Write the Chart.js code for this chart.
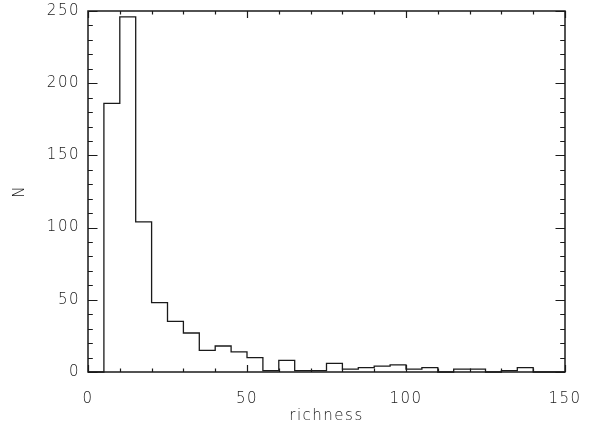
<!DOCTYPE html>
<html>
<head>
<meta charset="utf-8">
<script src="https://cdn.jsdelivr.net/npm/chart.js@4.4.1/dist/chart.umd.min.js"></script>
<style>
  html, body { margin: 0; padding: 0; background: #fff; }
  #wrap { width: 593px; height: 429px; }
</style>
</head>
<body>
<div id="wrap"><canvas id="histChart"></canvas></div>
<script>
// histogram of richness, bins of width 5
const binStart = [0, 5, 10, 15, 20, 25, 30, 35, 40, 45, 50, 55, 60, 65, 70,
                  75, 80, 85, 90, 95, 100, 105, 110, 115, 120, 125, 130, 135, 140, 145];
const binEnd = 150;
const counts = [0, 186, 246, 104, 48, 35, 27, 15, 18, 14, 10, 1, 8, 1, 1,
                6, 2, 3, 4, 5, 2, 3, 0, 2, 2, 0, 1, 3, 0, 0];
const xTicks = [0, 50, 100, 150];
const yTicks = [0, 50, 100, 150, 200, 250];

const ink = '#1a1a1a';
const font = { family: 'DejaVu Sans', size: 15, weight: 300 };

const points = binStart.map((x, i) => ({ x: x, y: counts[i] }));
points.push({ x: binEnd, y: counts[counts.length - 1] });

// IDL-like box with inward ticks on all four sides
const frameTicks = {
  id: 'frameTicks',
  beforeDraw(chart) {
    chart.ctx.letterSpacing = '1.5px';
  },
  afterDraw(chart) {
    const ctx = chart.ctx;
    const a = chart.chartArea;
    const sx = chart.scales.x;
    const sy = chart.scales.y;
    ctx.save();
    ctx.strokeStyle = ink;
    ctx.lineWidth = 1.2;
    ctx.beginPath();
    for (let v = 0; v <= 150; v += 10) {
      const px = Math.round(sx.getPixelForValue(v)) + 0.5;
      const len = v % 50 === 0 ? 7 : 3.5;
      ctx.moveTo(px, a.bottom);
      ctx.lineTo(px, a.bottom - len);
      ctx.moveTo(px, a.top);
      ctx.lineTo(px, a.top + len);
    }
    for (let v = 0; v <= 250; v += 10) {
      const py = Math.round(sy.getPixelForValue(v)) + 0.5;
      const len = v % 50 === 0 ? 9.5 : 4.8;
      ctx.moveTo(a.left, py);
      ctx.lineTo(a.left + len, py);
      ctx.moveTo(a.right, py);
      ctx.lineTo(a.right - len, py);
    }
    ctx.stroke();
    ctx.lineWidth = 1.5;
    ctx.strokeRect(a.left, a.top, a.right - a.left, a.bottom - a.top);
    ctx.restore();
  }
};

new Chart(document.getElementById('histChart').getContext('2d'), {
  type: 'line',
  data: {
    datasets: [{
      label: 'richness',
      data: points,
      stepped: 'before',
      borderColor: ink,
      borderWidth: 1.3,
      pointRadius: 0,
      fill: false,
      clip: false
    }]
  },
  options: {
    responsive: true,
    maintainAspectRatio: false,
    animation: false,
    layout: { padding: { top: 11, right: 28, left: 0, bottom: 0 } },
    plugins: {
      legend: { display: false },
      tooltip: { enabled: false }
    },
    scales: {
      x: {
        type: 'linear',
        min: 0,
        max: 150,
        grid: { display: false, drawTicks: false },
        border: { display: false },
        afterBuildTicks: (s) => { s.ticks = xTicks.map(v => ({ value: v })); },
        afterFit: (s) => { s.height = 57; s.paddingLeft = 0; s.paddingRight = 0; },
        ticks: { color: ink, font: font, padding: 18, maxRotation: 0 },
        title: { display: true, text: 'richness', color: ink, font: font, padding: { top: 0, bottom: 4 } }
      },
      y: {
        min: 0,
        max: 250,
        grid: { display: false, drawTicks: false },
        border: { display: false },
        afterBuildTicks: (s) => { s.ticks = yTicks.map(v => ({ value: v })); },
        afterFit: (s) => { s.width = 88; s.paddingTop = 0; s.paddingBottom = 0; },
        ticks: { color: ink, font: font, padding: 8 },
        title: { display: true, text: 'N', color: ink, font: font, padding: { top: 11, bottom: 0 } }
      }
    }
  },
  plugins: [frameTicks]
});
</script>
</body>
</html>
